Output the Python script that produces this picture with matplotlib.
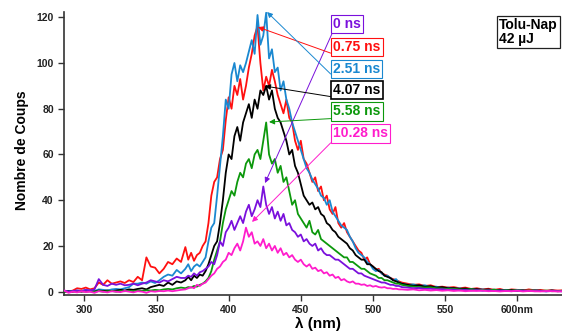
import numpy as np
import matplotlib
matplotlib.use("Agg")
import matplotlib.pyplot as plt

plt.rcParams['font.family'] = ['Liberation Sans', 'DejaVu Sans']
plt.rcParams['font.weight'] = 'bold'
plt.rcParams['axes.labelweight'] = 'bold'

# wavelength grid (nm)
wavelength = np.concatenate([np.arange(286, 368, 3), np.arange(370, 521, 2), np.arange(524, 633, 4)])

labels = ["0 ns", "0.75 ns", "2.51 ns", "4.07 ns", "5.58 ns", "10.28 ns"]
colors = ["#7a10dc", "#ff1010", "#1a88d0", "#000000", "#0c980c", "#ff1ccc"]

s_0ns = [0.5, 0, 0.3, 0.5, 0.2, 0.8, 0.5, 1.0, 5.5, 3.0, 2.5, 3.5, 3.0, 3.5, 2.8, 3.0, 3.5, 2.8, 3.5, 4.0, 5.0, 4.5, 4.0, 5.0, 4.5, 5.5, 6.5, 6.0,
         6, 7, 6.5, 8, 7, 8.5, 9, 10, 11, 13, 12, 16, 22, 20, 26, 28, 31, 27, 30, 33,
         30, 35, 38, 33, 36, 40, 37, 46, 38, 34, 37, 32, 35, 31, 34, 29, 30, 27, 26, 24,
         25, 22, 23, 21, 20, 21, 18, 19, 17, 16, 16, 15, 14, 14, 13, 12, 11, 10, 10, 9,
         8, 8, 7, 6.5, 6, 5.5, 5, 4.5, 4, 4, 3.5, 3, 3, 2.5, 2.5, 2,
         1.8, 1.5, 1.6, 1.2, 1.3, 1, 1.1, 0.8, 0.9, 0.6, 0.8, 0.5, 0.7, 0.4, 0.6, 0.3, 0.5, 0.4, 0.2, 0.5, 0.3, 0.4, 0.2, 0.3, 0.1, 0.3, 0.2, 0.1]

s_075ns = [0.5, 0, 0.5, 1.5, 1.2, 1.8, 1.0, 1.5, 4.0, 3.0, 5.0, 3.5, 4.0, 4.5, 3.8, 5.0, 4.2, 6.5, 5.0, 15.0, 11.0, 10.5, 8.0, 10.0, 13.0, 12.0, 14.5, 13.0,
           19.5, 14, 17, 13.5, 16, 17, 20, 22, 30, 42, 48, 50, 58, 62, 75, 85, 80, 90, 86, 93,
           84, 90, 98, 104, 112, 116, 100, 88, 94, 90, 97, 92, 86, 82, 78, 84, 76, 74, 66, 62,
           66, 58, 56, 52, 48, 50, 44, 46, 40, 42, 36, 34, 37, 30, 28, 30, 26, 24, 22, 20,
           18, 17, 14, 15, 12, 11, 9.5, 10, 8, 7.5, 7, 6, 5.5, 5, 4.5, 4,
           3.5, 3, 3.2, 2.5, 2.8, 2, 2.2, 1.8, 2, 1.5, 1.8, 1.2, 1.5, 1, 1.3, 0.8, 1.2, 0.5, 1, 0.8, 0.5, 1, 0.6, 0.8, 0.4, 0.7, 0.5, 0.6]

s_251ns = [0, 0.3, 0.2, 0.5, 0.3, 0.8, 0.5, 0.3, 1.0, 0.8, 0.5, 1.0, 1.2, 1.0, 1.5, 2.0, 3.5, 3.5, 4.0, 3.5, 4.5, 3.8, 5.0, 6.5, 7.5, 7.0, 9.5, 8.0,
           10, 12, 9, 11, 12, 11, 13, 15, 22, 28, 30, 42, 55, 68, 84, 80, 95, 100, 92, 99,
           96, 100, 105, 110, 104, 121, 108, 112, 122, 102, 106, 96, 98, 88, 92, 84, 80, 74, 70, 66,
           62, 58, 54, 52, 49, 47, 45, 42, 41, 38, 40, 35, 33, 31, 29, 28, 27, 24, 22, 19,
           17, 16, 15, 13, 12, 10, 9, 9.5, 8, 7, 7, 6, 5, 5.5, 4, 3.5,
           3, 3.2, 2.5, 2.8, 2, 2.2, 1.5, 1.8, 1.2, 1.5, 1, 1.2, 0.8, 1, 0.6, 0.9, 0.5, 0.8, 0.4, 0.7, 0.5, 0.3, 0.6, 0.4, 0.2, 0.5, 0.3, 0.4]

s_407ns = [0, 0.2, 0, 0.3, 0, 0.3, 0.2, 0, 0.5, 0.3, 0.5, 0.2, 0.5, 0.8, 0.5, 1.0, 0.8, 1.2, 1.5, 1.0, 2.0, 2.5, 3.0, 2.5, 4.0, 3.0, 4.5, 4.0,
           5, 6.5, 5, 7, 6, 7.5, 7, 9, 12, 16, 20, 22, 30, 40, 52, 60, 58, 68, 72, 66,
           74, 78, 82, 76, 84, 80, 88, 86, 90, 84, 88, 80, 76, 74, 70, 66, 60, 62, 55, 52,
           47, 42, 40, 38, 39, 36, 37, 34, 33, 30, 29, 27, 26, 24, 23, 22, 21, 19, 18, 16,
           15, 14, 14, 12, 12, 11, 10, 9, 8.5, 7, 6.5, 6, 5, 4.5, 4, 3.5,
           3, 2.6, 2.8, 2.2, 2.4, 1.8, 2, 1.5, 1.6, 1.2, 1.4, 1, 1.1, 0.8, 1, 0.6, 0.8, 0.5, 0.7, 0.4, 0.6, 0.3, 0.5, 0.4, 0.3, 0.5, 0.2, 0.4]

s_558ns = [0, 0, 0.2, 0, 0.3, 0, 0.2, 0, 0.3, 0, 0.2, 0.3, 0, 0.3, 0.2, 0.4, 0.2, 0.5, 0.3, 0.6, 0.5, 0.8, 0.6, 1.0, 1.2, 1.0, 1.5, 1.8,
           1.5, 2, 1.8, 2.5, 2.2, 3, 3.5, 4.5, 6, 9, 14, 18, 22, 30, 36, 40, 44, 42, 48, 52,
           50, 56, 58, 54, 60, 62, 58, 66, 74, 60, 56, 58, 52, 55, 48, 50, 44, 38, 40, 34,
           32, 30, 28, 31, 26, 25, 27, 23, 22, 21, 20, 19, 18, 17, 16, 15, 15, 13, 13, 12,
           11, 10, 10, 9, 8, 7.5, 7, 6, 6, 5, 5, 4.5, 4, 3.5, 3.5, 3,
           2.5, 2.2, 2, 1.8, 1.9, 1.5, 1.4, 1.2, 1.3, 1, 0.9, 1.1, 0.7, 0.8, 0.6, 0.9, 0.5, 0.6, 0.4, 0.7, 0.3, 0.5, 0.4, 0.3, 0.5, 0.2, 0.3, 0.4]

s_1028ns = [0.5, -0.5, 0, -0.3, 0.2, -0.2, 0, -0.5, 0.2, 0, -0.3, 0.2, 0, -0.2, 0.3, 0, -0.3, 0.2, 0, -0.5, 0.2, 0, 0.3, 0.2, 0.5, 0.2, 0.5, 0.8,
            1, 1.5, 2, 1.5, 3, 2.5, 3.5, 4, 5.5, 7, 8, 10, 11, 13, 14, 17, 16, 19, 21, 18,
            22, 28, 24, 26, 21, 22, 20, 23, 19, 21, 18, 20, 17, 19, 16, 17, 15, 16, 14, 13,
            14, 12, 11, 12, 10, 10.5, 9, 9.5, 8, 8.5, 7, 7.5, 6, 6.5, 5, 5.5, 4.5, 4, 4.5, 3.5,
            3.5, 3, 3.2, 2.5, 2.8, 2.2, 2.5, 2, 1.8, 2, 1.5, 1.5, 1.2, 1.3, 1, 1,
            0.8, 1, 0.6, 0.8, 0.5, 0.7, 0.4, 0.6, 0.3, 0.5, 0.2, 0.4, 0.3, 0.5, 0.2, 0.3, 0.1, 0.3, 0.2, 0.4, 0.1, 0.3, 0.2, 0.1, 0.3, 0.2, 0.1, 0.2]

series = [s_0ns, s_075ns, s_251ns, s_407ns, s_558ns, s_1028ns]

# annotation: arrow tip on curve (nm, counts) and label position (nm, counts)
arrow_tips = [(425.2, 47.5), (420.3, 115.7), (426.6, 122.3), (425.2, 89.9), (428.0, 74.2), (416.2, 30.5)]
label_pos = [(472.4, 117.0), (472.4, 107.0), (472.4, 97.2), (472.4, 88.2), (472.4, 78.8), (472.4, 69.2)]

xticks = [300, 350, 400, 450, 500, 550, 600]
xticklabels = ["300", "350", "400", "450", "500", "550", "600nm"]
yticks = [0, 20, 40, 60, 80, 100, 120]

fig = plt.figure(figsize=(5.62, 3.31), dpi=100)
ax = fig.add_axes([64 / 562, 36 / 331, 498 / 562, 283 / 331])

draw_order = [1, 2, 3, 4, 0, 5]
for i in draw_order:
    ax.plot(wavelength, series[i], color=colors[i], lw=1.3, zorder=2 + draw_order.index(i))

ax.set_xlim(285.9, 631.0)
ax.set_ylim(-1.45, 122.3)

for sp in ['top', 'right']:
    ax.spines[sp].set_visible(False)
for sp in ['left', 'bottom']:
    ax.spines[sp].set_linewidth(1.2)
    ax.spines[sp].set_color('#333333')

ax.set_xticks(xticks)
ax.set_xticklabels(xticklabels)
ax.set_yticks(yticks)
ax.tick_params(direction='out', length=4.3, width=1.0, color='#333333', labelsize=7.5, labelcolor='#222222')
ax.tick_params(axis='x', pad=3.2)
ax.tick_params(axis='y', pad=3.0)

ax.set_ylabel("Nombre de Coups", fontsize=10)
ax.set_xlabel("λ (nm)", fontsize=11)
ax.yaxis.set_label_coords(-0.07, 0.51)
ax.xaxis.set_label_coords(0.511, -0.077)

for i in range(len(labels)):
    lw_box = 1.2 if colors[i] == "#000000" else 0.8
    ax.annotate(labels[i], xy=arrow_tips[i], xytext=label_pos[i], xycoords='data', textcoords='data',
                ha='left', va='center', fontsize=10, fontweight='bold', color=colors[i],
                bbox=dict(boxstyle='square,pad=0.15', fc='white', ec=colors[i], lw=lw_box),
                arrowprops=dict(arrowstyle='-|>', color=colors[i], lw=0.7, mutation_scale=8,
                                shrinkA=0, shrinkB=0, relpos=(0, 0)),
                zorder=20, annotation_clip=False)

fig.text(499 / 562, 1 - 32 / 331, "Tolu-Nap\n42 µJ", ha='left', va='center', fontsize=10,
         fontweight='bold', color='black', linespacing=1.0,
         bbox=dict(boxstyle='square,pad=0.15', fc='white', ec='#222222', lw=0.9))

fig.savefig("out.png", dpi=100)
